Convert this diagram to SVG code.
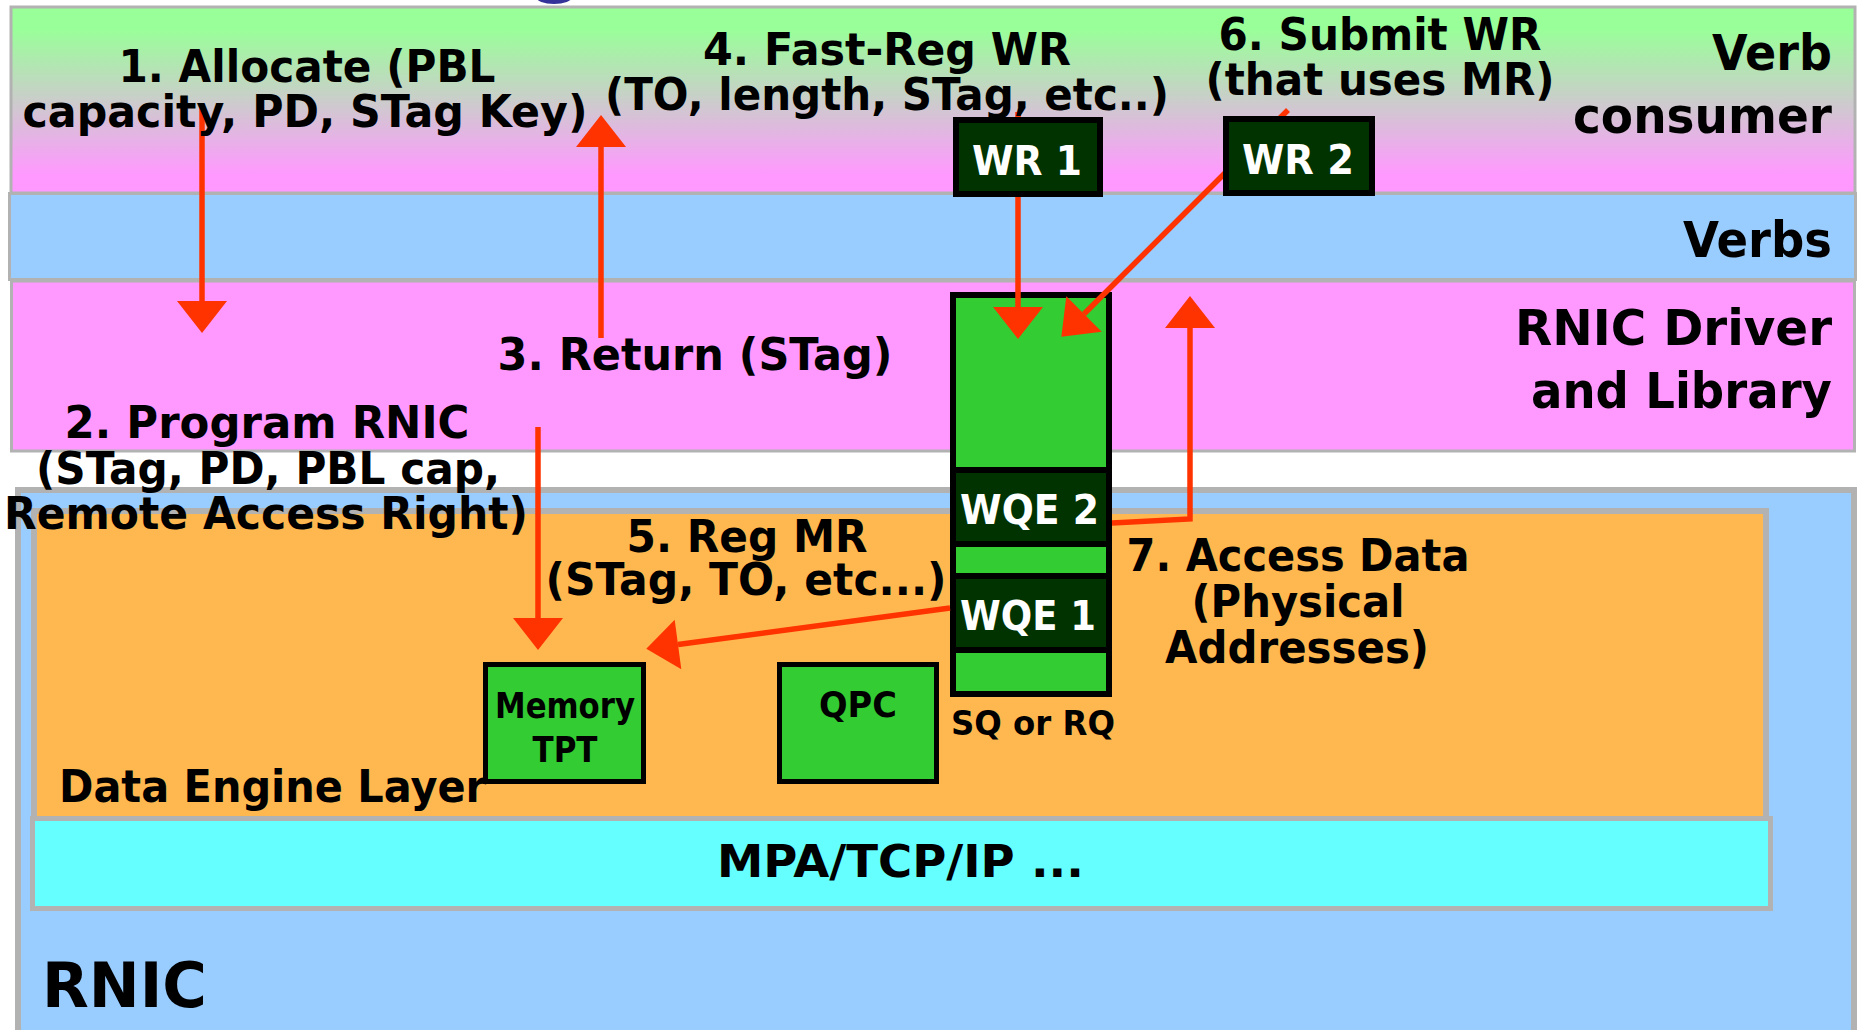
<svg xmlns="http://www.w3.org/2000/svg" width="1858" height="1030" viewBox="0 0 1858 1030">
  <defs>
    <linearGradient id="consumerFill" x1="0" y1="0" x2="0" y2="1">
      <stop offset="0.12" stop-color="#99FF99"/>
      <stop offset="0.9" stop-color="#FF99FF"/>
    </linearGradient>
    <marker id="head" markerUnits="userSpaceOnUse" markerWidth="33" markerHeight="52" refX="0" refY="25" orient="auto" overflow="visible">
      <path d="M0,0 L32,25 L0,50 z" fill="#FF3300"/>
    </marker>
    <style>
      .band { stroke: #B2B2B2; stroke-width: 3; }
      .layer { stroke: #B2B2B2; stroke-width: 6; }
      .t { font-family: "DejaVu Sans", "Liberation Sans", sans-serif; font-weight: bold; fill: #000; }
      .step { font-size: 45px; text-anchor: middle; }
      .side { font-size: 50px; text-anchor: end; }
      .wr { fill: #003300; stroke: #000; stroke-width: 6; }
      .wrt { font-family: "DejaVu Sans", "Liberation Sans", sans-serif; font-weight: bold; fill: #FFFFFF; font-size: 41px; }
      .blk { fill: #33CC33; stroke: #000; stroke-width: 5; }
      .small { font-size: 36px; text-anchor: middle; }
      .conn { fill: none; stroke: #FF3300; stroke-width: 5.5; marker-end: url(#head); }
    </style>
  </defs>

  <rect width="1858" height="1030" fill="#FFFFFF"/>
  <!-- partly hidden title mark above the top band -->
  <ellipse cx="554" cy="-3" rx="18" ry="7" fill="#333399"/>

  <!-- software layers -->
  <g id="layer-consumer">
    <rect class="band" x="11" y="7" width="1844" height="186" fill="url(#consumerFill)"/>
    <text class="t side" x="1832" y="70" textLength="120" lengthAdjust="spacingAndGlyphs">Verb</text>
    <text class="t side" x="1832" y="133" textLength="259" lengthAdjust="spacingAndGlyphs">consumer</text>
  </g>
  <g id="layer-verbs">
    <rect class="band" x="9.5" y="193.5" width="1846" height="86" fill="#99CCFF"/>
    <text class="t side" x="1832" y="257" textLength="149" lengthAdjust="spacingAndGlyphs">Verbs</text>
  </g>
  <g id="layer-driver">
    <rect class="band" x="11.5" y="281" width="1843" height="170" fill="#FF99FF"/>
    <text class="t side" x="1832" y="345" textLength="317" lengthAdjust="spacingAndGlyphs">RNIC Driver</text>
    <text class="t side" x="1832" y="408" textLength="301" lengthAdjust="spacingAndGlyphs">and Library</text>
  </g>

  <!-- hardware: RNIC with its data engine and transport -->
  <g id="rnic">
    <rect class="layer" x="18" y="490" width="1836" height="580" fill="#99CCFF"/>
    <text class="t" x="42" y="1007" font-size="62" textLength="165" lengthAdjust="spacingAndGlyphs">RNIC</text>
  </g>
  <g id="data-engine">
    <rect class="layer" x="34" y="511" width="1732" height="320" fill="#FFB850"/>
    <text class="t" x="59" y="802" font-size="44" textLength="427" lengthAdjust="spacingAndGlyphs">Data Engine Layer</text>
  </g>
  <g id="transport">
    <rect class="band" x="32.5" y="818.5" width="1738" height="90" fill="#66FFFF" style="stroke-width:5"/>
    <text class="t" x="717" y="877" font-size="44" textLength="367" lengthAdjust="spacingAndGlyphs">MPA/TCP/IP ...</text>
  </g>

  <!-- work queue -->
  <g id="queue">
    <rect x="953" y="295" width="156" height="399" fill="#33CC33" stroke="#000" stroke-width="6"/>
    <rect class="wr" x="953" y="470" width="156" height="74"/>
    <text class="wrt" x="960" y="524" font-size="40" textLength="139" lengthAdjust="spacingAndGlyphs">WQE 2</text>
    <rect class="wr" x="953" y="576" width="156" height="74"/>
    <text class="wrt" x="960" y="630" font-size="40" textLength="136" lengthAdjust="spacingAndGlyphs">WQE 1</text>
    <text class="t" x="951" y="735" font-size="34" textLength="164" lengthAdjust="spacingAndGlyphs">SQ or RQ</text>
  </g>
  <g id="memory-tpt">
    <rect class="blk" x="485.5" y="664.5" width="158" height="117"/>
    <text class="t small" x="565" y="718" textLength="140" lengthAdjust="spacingAndGlyphs">Memory</text>
    <text class="t small" x="565" y="762" textLength="65" lengthAdjust="spacingAndGlyphs">TPT</text>
  </g>
  <g id="qpc">
    <rect class="blk" x="779.5" y="664.5" width="157" height="117"/>
    <text class="t small" x="858" y="717" textLength="78" lengthAdjust="spacingAndGlyphs">QPC</text>
  </g>

  <!-- numbered steps -->
  <g id="connectors">
    <path class="conn" d="M202,108 V301"/>
    <path class="conn" d="M538,427 V618"/>
    <path class="conn" d="M601,338 V147"/>
    <path class="conn" d="M1018,112 V307"/>
    <path class="conn" d="M950,608 L678,644.5"/>
    <path class="conn" d="M1288,110 L1084,314"/>
    <path class="conn" d="M1112,523 L1190,519 V328"/>
  </g>

  <!-- work requests -->
  <g id="wr1">
    <rect class="wr" x="956" y="120" width="144" height="74"/>
    <text class="wrt" x="972" y="175" textLength="110" lengthAdjust="spacingAndGlyphs">WR 1</text>
  </g>
  <g id="wr2">
    <rect class="wr" x="1226" y="119" width="146" height="74"/>
    <text class="wrt" x="1242" y="174" textLength="112" lengthAdjust="spacingAndGlyphs">WR 2</text>
  </g>

  <!-- step labels -->
  <g id="labels">
    <text class="t step" x="307" y="82" textLength="377" lengthAdjust="spacingAndGlyphs">1. Allocate (PBL</text>
    <text class="t step" x="305" y="127" textLength="565" lengthAdjust="spacingAndGlyphs">capacity, PD, STag Key)</text>
    <text class="t step" x="267" y="438" textLength="405" lengthAdjust="spacingAndGlyphs">2. Program RNIC</text>
    <text class="t step" x="268" y="484" textLength="464" lengthAdjust="spacingAndGlyphs">(STag, PD, PBL cap,</text>
    <text class="t step" x="266" y="529" textLength="524" lengthAdjust="spacingAndGlyphs">Remote Access Right)</text>
    <text class="t step" x="695" y="370" textLength="395" lengthAdjust="spacingAndGlyphs">3. Return (STag)</text>
    <text class="t step" x="887" y="65" textLength="368" lengthAdjust="spacingAndGlyphs">4. Fast-Reg WR</text>
    <text class="t step" x="887" y="110" textLength="564" lengthAdjust="spacingAndGlyphs">(TO, length, STag, etc..)</text>
    <text class="t step" x="747" y="552" textLength="241" lengthAdjust="spacingAndGlyphs">5. Reg MR</text>
    <text class="t step" x="746" y="595" textLength="401" lengthAdjust="spacingAndGlyphs">(STag, TO, etc...)</text>
    <text class="t step" x="1380" y="50" textLength="323" lengthAdjust="spacingAndGlyphs">6. Submit WR</text>
    <text class="t step" x="1380" y="95" textLength="349" lengthAdjust="spacingAndGlyphs">(that uses MR)</text>
    <text class="t step" x="1298" y="571" textLength="343" lengthAdjust="spacingAndGlyphs">7. Access Data</text>
    <text class="t step" x="1298" y="617" textLength="213" lengthAdjust="spacingAndGlyphs">(Physical</text>
    <text class="t step" x="1297" y="663" textLength="264" lengthAdjust="spacingAndGlyphs">Addresses)</text>
  </g>
</svg>
